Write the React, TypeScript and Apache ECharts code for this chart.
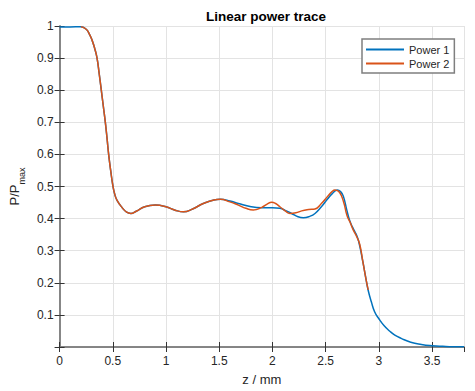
import React, { useEffect, useRef } from "react";
import * as echarts from "echarts";

const zPower1 = [0, 0.1, 0.2, 0.25, 0.28, 0.305, 0.33, 0.352, 0.372, 0.392, 0.411, 0.43, 0.446, 0.461, 0.48, 0.502, 0.52, 0.54, 0.586, 0.63, 0.67, 0.72, 0.8, 0.9, 1.0, 1.08, 1.165, 1.25, 1.35, 1.45, 1.51, 1.6, 1.68, 1.8, 1.9, 2.0, 2.07, 2.13, 2.18, 2.24, 2.29, 2.35, 2.4, 2.46, 2.52, 2.56, 2.61, 2.64, 2.666, 2.7, 2.725, 2.75, 2.775, 2.8, 2.82, 2.85, 2.88, 2.9, 2.93, 2.96, 3.0, 3.05, 3.1, 3.15, 3.21, 3.3, 3.4, 3.5, 3.6, 3.7, 3.8];
const pPower1 = [0.997, 0.997, 0.998, 0.99, 0.975, 0.956, 0.93, 0.9, 0.852, 0.8, 0.75, 0.7, 0.65, 0.6, 0.55, 0.5, 0.474, 0.457, 0.435, 0.42, 0.416, 0.423, 0.437, 0.442, 0.437, 0.427, 0.421, 0.43, 0.447, 0.458, 0.46, 0.455, 0.447, 0.437, 0.434, 0.434, 0.432, 0.424, 0.416, 0.406, 0.403, 0.407, 0.416, 0.437, 0.462, 0.477, 0.489, 0.484, 0.47, 0.425, 0.395, 0.375, 0.359, 0.34, 0.315, 0.265, 0.21, 0.176, 0.14, 0.11, 0.088, 0.066, 0.05, 0.037, 0.027, 0.015, 0.008, 0.004, 0.002, 0.001, 0.001];

const zPower2 = [0.2, 0.25, 0.28, 0.305, 0.33, 0.352, 0.372, 0.392, 0.411, 0.43, 0.446, 0.461, 0.48, 0.502, 0.52, 0.54, 0.586, 0.63, 0.67, 0.72, 0.8, 0.9, 1.0, 1.08, 1.165, 1.25, 1.35, 1.45, 1.51, 1.6, 1.68, 1.75, 1.82, 1.9, 1.95, 1.993, 2.03, 2.07, 2.12, 2.165, 2.22, 2.275, 2.34, 2.4, 2.46, 2.52, 2.56, 2.587, 2.63, 2.67, 2.7, 2.728, 2.76, 2.79, 2.82, 2.85, 2.88, 2.9];
const pPower2 = [0.998, 0.99, 0.975, 0.956, 0.93, 0.9, 0.852, 0.8, 0.75, 0.7, 0.65, 0.6, 0.55, 0.5, 0.474, 0.457, 0.435, 0.42, 0.416, 0.423, 0.437, 0.442, 0.437, 0.427, 0.421, 0.43, 0.447, 0.458, 0.46, 0.452, 0.442, 0.432, 0.427, 0.435, 0.445, 0.451, 0.447, 0.437, 0.424, 0.416, 0.418, 0.424, 0.428, 0.43, 0.447, 0.47, 0.484, 0.489, 0.482, 0.45, 0.41, 0.39, 0.364, 0.345, 0.32, 0.265, 0.21, 0.178];

const seriesNames = ["Power 1", "Power 2"];
const titleText = "Linear power trace";
const xLabel = "z / mm";

const FONT = "'Liberation Sans', Arial, Helvetica, sans-serif";
const AXIS_COLOR = "#7f7f7f";
const TEXT_COLOR = "#262626";
const GRID_COLOR = "#e3e3e3";

export default function App() {
  const ref = useRef<HTMLDivElement>(null);
  useEffect(() => {
    if (!ref.current) return;
    const chart = echarts.init(ref.current, undefined, { renderer: "svg" });
    const fmt1 = (v: number) => {
      const r = parseFloat(v.toFixed(1));
      return r === 0 ? "" : String(r);
    };
    const fmtX = (v: number) => String(parseFloat(v.toFixed(1)));
    chart.setOption({
      animation: false,
      backgroundColor: "#ffffff",
      title: {
        text: titleText,
        left: 261,
        textAlign: "center",
        top: 4,
        textStyle: { fontFamily: FONT, fontSize: 13.5, fontWeight: "bold", color: "#000" },
      },
      legend: {
        orient: "vertical",
        left: 362,
        top: 39,
        padding: [5, 5, 4, 4],
        itemGap: 3,
        itemWidth: 38,
        itemHeight: 2,
        icon: "rect",
        borderColor: AXIS_COLOR,
        borderWidth: 1.5,
        backgroundColor: "#fff",
        textStyle: { fontFamily: FONT, fontSize: 11, color: TEXT_COLOR, padding: [0, 0, 0, 0] },
        data: seriesNames,
      },
      grid: { left: 58, right: 11, top: 26, bottom: 44, containLabel: false },
      xAxis: [
        {
          type: "value",
          min: 0,
          max: 3.8,
          interval: 0.5,
          name: xLabel,
          nameLocation: "middle",
          nameGap: 26,
          nameTextStyle: { fontFamily: FONT, fontSize: 13, color: TEXT_COLOR },
          axisLine: { show: true, lineStyle: { color: AXIS_COLOR, width: 1.5 } },
          axisTick: { show: true, inside: true, length: 5, lineStyle: { color: "#333" } },
          axisLabel: { fontFamily: FONT, fontSize: 12, color: TEXT_COLOR, margin: 8, formatter: fmtX, showMaxLabel: false },
          splitLine: { show: true, lineStyle: { color: GRID_COLOR, width: 1 } },
        },
        {
          type: "value",
          position: "top",
          min: 0,
          max: 3.8,
          interval: 0.5,
          axisLine: { show: true, lineStyle: { color: AXIS_COLOR, width: 1.5 } },
          axisTick: { show: true, inside: true, length: 5, lineStyle: { color: "#333" } },
          axisLabel: { show: false },
          splitLine: { show: false },
        },
      ],
      yAxis: [
        {
          type: "value",
          min: 0,
          max: 1,
          interval: 0.1,
          name: "{a|P/P}{sub|max}",
          nameLocation: "middle",
          nameGap: 33,
          nameRotate: 90,
          nameTextStyle: {
            fontFamily: FONT,
            color: TEXT_COLOR,
            rich: {
              a: { fontFamily: FONT, fontSize: 13, color: TEXT_COLOR, verticalAlign: "top" },
              sub: { fontFamily: FONT, fontSize: 9, color: TEXT_COLOR, verticalAlign: "bottom", padding: [9, 0, 0, 0] },
            },
          },
          axisLine: { show: true, lineStyle: { color: AXIS_COLOR, width: 1.5 } },
          axisTick: { show: true, inside: true, length: 5, lineStyle: { color: "#333" } },
          axisLabel: { fontFamily: FONT, fontSize: 12, color: TEXT_COLOR, margin: 6, formatter: fmt1 },
          splitLine: { show: true, lineStyle: { color: GRID_COLOR, width: 1 } },
        },
        {
          type: "value",
          position: "right",
          min: 0,
          max: 1,
          interval: 0.1,
          axisLine: { show: true, lineStyle: { color: AXIS_COLOR, width: 1.5 } },
          axisTick: { show: true, inside: true, length: 5, lineStyle: { color: "#333" } },
          axisLabel: { show: false },
          splitLine: { show: false },
        },
      ],
      series: [
        {
          name: seriesNames[0],
          type: "line",
          xAxisIndex: 0,
          yAxisIndex: 0,
          data: zPower1.map((z, i) => [z, pPower1[i]]),
          showSymbol: false,
          smooth: 0.5,
          lineStyle: { color: "#0072BD", width: 1.5 },
          itemStyle: { color: "#0072BD" },
        },
        {
          name: seriesNames[1],
          type: "line",
          xAxisIndex: 0,
          yAxisIndex: 0,
          data: zPower2.map((z, i) => [z, pPower2[i]]),
          showSymbol: false,
          smooth: 0.5,
          lineStyle: { color: "#D95319", width: 1.5 },
          itemStyle: { color: "#D95319" },
        },
      ],
    });
    return () => chart.dispose();
  }, []);
  return <div ref={ref} style={{ width: 475, height: 391, position: "absolute", left: 0, top: 0 }} />;
}
